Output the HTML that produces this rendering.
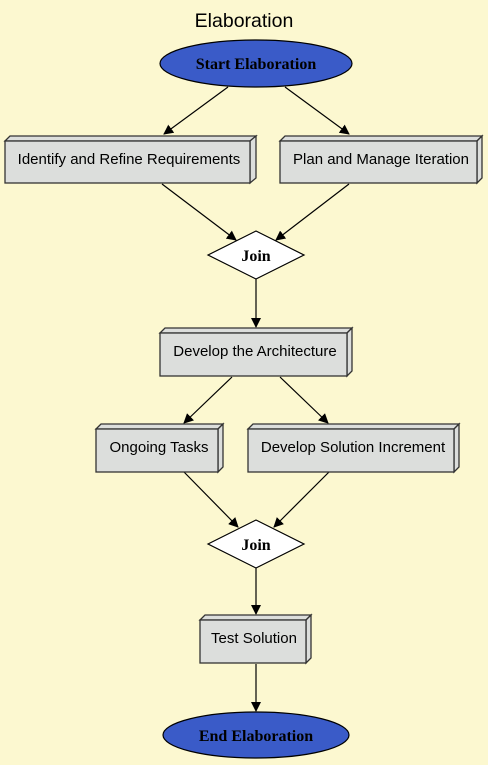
<!DOCTYPE html>
<html><head><meta charset="utf-8"><style>
html,body{margin:0;padding:0;background:#fcf8d0;}
svg{display:block}
.s{font-family:"Liberation Sans",sans-serif;font-size:15px;fill:#000}
.r{font-family:"Liberation Serif",serif;font-size:16px;fill:#000;font-weight:bold}
.box{fill:#dcdedc;stroke:#333;stroke-width:1.3}
.e{stroke:#000;stroke-width:1.2;fill:none}
</style></head><body>
<svg width="488" height="765" viewBox="0 0 488 765">
<defs><marker id="a" markerWidth="10" markerHeight="10" refX="9" refY="5" orient="auto" markerUnits="userSpaceOnUse"><path d="M0,0 L10,5 L0,10 Z" fill="#000"/></marker></defs>
<rect width="488" height="765" fill="#fcf8d0"/>
<text x="244" y="27" class="s" text-anchor="middle" style="font-size:19.5px">Elaboration</text>

<line class="e" x1="228" y1="87" x2="164" y2="134" marker-end="url(#a)"/>
<line class="e" x1="285" y1="87" x2="349" y2="134" marker-end="url(#a)"/>
<line class="e" x1="162" y1="184" x2="236" y2="240" marker-end="url(#a)"/>
<line class="e" x1="349" y1="184" x2="276" y2="240" marker-end="url(#a)"/>
<line class="e" x1="256" y1="279" x2="256" y2="327" marker-end="url(#a)"/>
<line class="e" x1="232" y1="377" x2="184" y2="423" marker-end="url(#a)"/>
<line class="e" x1="280" y1="377" x2="328" y2="423" marker-end="url(#a)"/>
<line class="e" x1="184" y1="472" x2="238" y2="527" marker-end="url(#a)"/>
<line class="e" x1="329" y1="472" x2="274" y2="527" marker-end="url(#a)"/>
<line class="e" x1="256" y1="568" x2="256" y2="614" marker-end="url(#a)"/>
<line class="e" x1="256" y1="664" x2="256" y2="711" marker-end="url(#a)"/>

<ellipse cx="256" cy="63.5" rx="96" ry="23.5" fill="#3a5bc8" stroke="#000" stroke-width="1.2"/>
<text x="256" y="69" class="r" text-anchor="middle">Start Elaboration</text>

<g>
<polygon class="box" points="5,141 10,136 256,136 250,141"/>
<polygon class="box" points="250,141 256,136 256,178 250,183"/>
<rect class="box" x="5" y="141" width="245" height="42"/>
<text x="129" y="164" class="s" text-anchor="middle">Identify and Refine Requirements</text>
</g>
<g>
<polygon class="box" points="280,141 285,136 482,136 477,141"/>
<polygon class="box" points="477,141 482,136 482,178 477,183"/>
<rect class="box" x="280" y="141" width="197" height="42"/>
<text x="381" y="164" class="s" text-anchor="middle">Plan and Manage Iteration</text>
</g>

<polygon points="208,255 256,231 304,255 256,279" fill="#fff" stroke="#000" stroke-width="1.2"/>
<text x="256" y="261" class="r" text-anchor="middle">Join</text>

<g>
<polygon class="box" points="160,333 165,328 352,328 347,333"/>
<polygon class="box" points="347,333 352,328 352,371 347,376"/>
<rect class="box" x="160" y="333" width="187" height="43"/>
<text x="255" y="356" class="s" text-anchor="middle">Develop the Architecture</text>
</g>
<g>
<polygon class="box" points="96,429 101,424 223,424 218,429"/>
<polygon class="box" points="218,429 223,424 223,467 218,472"/>
<rect class="box" x="96" y="429" width="122" height="43"/>
<text x="159" y="452" class="s" text-anchor="middle">Ongoing Tasks</text>
</g>
<g>
<polygon class="box" points="248,429 253,424 459,424 454,429"/>
<polygon class="box" points="454,429 459,424 459,467 454,472"/>
<rect class="box" x="248" y="429" width="206" height="43"/>
<text x="353" y="452" class="s" text-anchor="middle">Develop Solution Increment</text>
</g>

<polygon points="208,544 256,520 304,544 256,568" fill="#fff" stroke="#000" stroke-width="1.2"/>
<text x="256" y="550" class="r" text-anchor="middle">Join</text>

<g>
<polygon class="box" points="200,620 205,615 311,615 306,620"/>
<polygon class="box" points="306,620 311,615 311,658 306,663"/>
<rect class="box" x="200" y="620" width="106" height="43"/>
<text x="254" y="643" class="s" text-anchor="middle">Test Solution</text>
</g>

<ellipse cx="256" cy="735" rx="93" ry="23" fill="#3a5bc8" stroke="#000" stroke-width="1.2"/>
<text x="256" y="741" class="r" text-anchor="middle">End Elaboration</text>
</svg>
</body></html>
